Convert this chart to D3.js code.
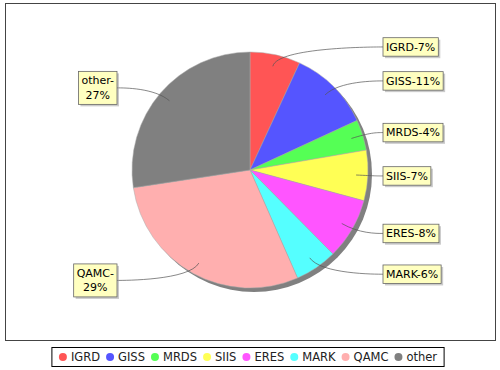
<!DOCTYPE html>
<html>
<head>
<meta charset="utf-8">
<script src="https://cdn.jsdelivr.net/npm/d3@7"></script>
<style>
  body { margin: 0; background: #fff; }
  text { font-family: "DejaVu Sans", sans-serif; }
</style>
</head>
<body>
<svg id="chart" width="500" height="370"></svg>
<script>
const categories = ["IGRD", "GISS", "MRDS", "SIIS", "ERES", "MARK", "QAMC", "other"];
const shares = [6.9, 11.2, 4.2, 6.9, 8.4, 5.8, 29.2, 27.4];
const colors = ["#ff5555", "#5555ff", "#55ff55", "#ffff55", "#ff55ff", "#55ffff", "#ffafaf", "#808080"];

const svg = d3.select("#chart");
const cx = 250, cy = 170, radius = 118;
const linkRadius = 126;   // elbow / label ring
const labelGap = 7;

const slices = categories.map((name, i) => ({ name, value: shares[i], color: colors[i] }));
const total = d3.sum(shares);
const pie = d3.pie().sort(null).value((d) => d.value);
const arcs = pie(slices);
const arc = d3.arc().innerRadius(0).outerRadius(radius);

// plot frame
svg.append("rect")
  .attr("x", 5.5).attr("y", 3.5)
  .attr("width", 490).attr("height", 337)
  .attr("fill", "#fff")
  .attr("stroke", "#444");

const plot = svg.append("g").attr("transform", `translate(${cx},${cy})`);

// shadow
plot.append("circle")
  .attr("cx", 4).attr("cy", 4)
  .attr("r", radius)
  .attr("fill", "#808080");

plot.selectAll("path.slice")
  .data(arcs)
  .join("path")
  .attr("class", "slice")
  .attr("d", arc)
  .attr("fill", (d) => d.data.color)
  .attr("stroke", "#aaa")
  .attr("stroke-width", 0.5);

function polar(angle, r) {
  return [Math.sin(angle) * r, -Math.cos(angle) * r];
}

const linkLayer = plot.append("g");
const labelLayer = plot.append("g");

arcs.forEach((d) => {
  const mid = (d.startAngle + d.endAngle) / 2;
  const right = mid < Math.PI;
  const pct = Math.round(d.data.value / total * 100);
  const lines = right ? [`${d.data.name}-${pct}%`] : [`${d.data.name}-`, `${pct}%`];

  const [lx, ly] = polar(mid, radius * 0.9);
  const [ex, ey] = polar(mid, linkRadius);
  const ax = right ? linkRadius : -linkRadius;
  const tx = right ? ax + labelGap : ax - labelGap;
  const ty = ey;

  linkLayer.append("path")
    .attr("d", `M${lx},${ly} C${ex},${ey} ${ax},${ey} ${tx},${ty}`)
    .attr("fill", "none")
    .attr("stroke", "#555")
    .attr("stroke-width", 0.7);

  const g = labelLayer.append("g");
  const lineH = 14.5, padX = 3, padY = 2;
  const texts = g.selectAll("text")
    .data(lines)
    .join("text")
    .attr("font-size", 11)
    .attr("fill", "#000")
    .attr("text-anchor", "middle")
    .text((t) => t);
  const w = d3.max(texts.nodes(), (n) => n.getComputedTextLength()) + padX * 2;
  const h = lines.length * lineH + padY * 2;
  const bx = right ? tx : tx - w;
  const by = ty - h / 2;

  g.insert("rect", "text")
    .attr("x", bx + 2).attr("y", by + 2)
    .attr("width", w).attr("height", h)
    .attr("fill", "rgba(151,151,151,0.5)");
  g.insert("rect", "text")
    .attr("x", bx).attr("y", by)
    .attr("width", w).attr("height", h)
    .attr("fill", "#ffffc0")
    .attr("stroke", "#666")
    .attr("stroke-width", 0.8);
  texts
    .attr("x", bx + w / 2)
    .attr("y", (t, i) => by + padY + i * lineH + 11);
});

// legend
const legend = svg.append("g");
const legendItems = legend.selectAll("g")
  .data(slices)
  .join("g");
legendItems.append("circle")
  .attr("r", 4)
  .attr("fill", (d) => d.color);
legendItems.append("text")
  .attr("x", 8)
  .attr("y", 4)
  .attr("font-size", 11.5)
  .attr("fill", "#222")
  .text((d) => d.name);

let pos = 0;
const offsets = [];
legendItems.each(function () {
  offsets.push(pos);
  const tw = d3.select(this).select("text").node().getComputedTextLength();
  pos += 8 + tw + 10;
});
const contentW = pos - 10 + 4;
const boxW = contentW + 14;
const boxX = 248 - boxW / 2;
const legendY = 357;
legend.insert("rect", "g")
  .attr("x", boxX).attr("y", 347.5)
  .attr("width", boxW).attr("height", 19)
  .attr("fill", "#fff")
  .attr("stroke", "#000");
legendItems.attr("transform", (d, i) => `translate(${boxX + 7 + 4 + offsets[i]},${legendY})`);
</script>
</body>
</html>
